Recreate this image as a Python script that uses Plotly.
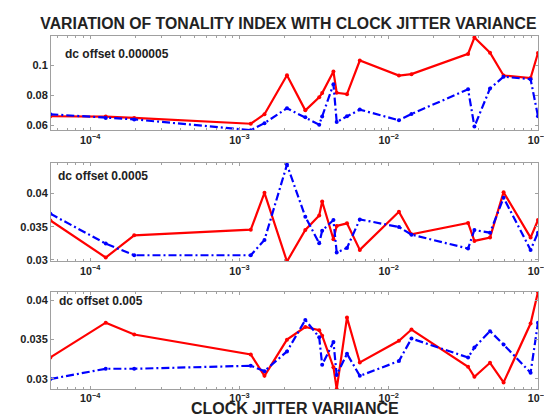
import plotly.graph_objects as go

# Clock jitter variance (shared x values)
jitter = [5.4e-5, 1.27e-4, 1.97e-4, 1.19e-3, 1.47e-3, 2.08e-3, 2.76e-3, 3.42e-3, 3.58e-3,
          4.26e-3, 4.48e-3, 5.25e-3, 6.4e-3, 0.0117, 0.0142, 0.034, 0.0375, 0.0477,
          0.0588, 0.0892, 0.1]

# dc offset 0.000005
top_red = [0.0661, 0.0659, 0.0650, 0.0611, 0.0674, 0.0934, 0.0700, 0.0787, 0.0815,
           0.0958, 0.0817, 0.0808, 0.1032, 0.0932, 0.0941, 0.1076, 0.1185, 0.1084,
           0.0932, 0.0915, 0.1082]
top_blue = [0.0674, 0.0650, 0.0640, 0.0568, 0.0615, 0.0714, 0.0655, 0.0605, 0.0660,
            0.0874, 0.0623, 0.0661, 0.0705, 0.0634, 0.0676, 0.0840, 0.0592, 0.0846,
            0.0924, 0.0907, 0.0661]

# dc offset 0.0005
mid_red = [0.03595, 0.03035, 0.03369, 0.03455, 0.0401, 0.02975, 0.0345, 0.0367, 0.0388,
           0.0331, 0.0351, 0.0355, 0.0315, 0.03725, 0.03384, 0.03556, 0.03285, 0.03335,
           0.0402, 0.03335, 0.0360]
mid_blue = [0.03695, 0.03245, 0.03069, 0.03069, 0.0330, 0.04435, 0.0365, 0.0325, 0.0344,
            0.0360, 0.0311, 0.0318, 0.0361, 0.03495, 0.0338, 0.0317, 0.0345, 0.0341,
            0.03935, 0.0315, 0.0341]

# dc offset 0.005
bot_red = [0.03273, 0.03716, 0.03565, 0.03311, 0.0304, 0.0350, 0.0366, 0.0362, 0.0355,
           0.0315, 0.02873, 0.0378, 0.0321, 0.03485, 0.03628, 0.03156, 0.03029, 0.03206,
           0.02957, 0.03704, 0.04105]
bot_blue = [0.0300, 0.0313, 0.0313, 0.03168, 0.0310, 0.0335, 0.0375, 0.0353, 0.0318,
            0.0347, 0.0305, 0.0332, 0.0304, 0.03228, 0.03514, 0.03273, 0.0340, 0.03608,
            0.03438, 0.0308, 0.03716]

panel_labels = ["dc offset 0.000005", "dc offset 0.0005", "dc offset 0.005"]
top_ticks = [0.06, 0.08, 0.1]
top_ticktext = ["0.06", "0.08", "0.1"]
low_ticks = [0.03, 0.035, 0.04]
low_ticktext = ["0.03", "0.035", "0.04"]

title_text = "VARIATION OF TONALITY INDEX WITH CLOCK JITTER VARIANCE"
xlabel_text = "CLOCK JITTER VARIIANCE"

FONT = "Liberation Sans, Arial, sans-serif"
RED = "#ff0000"
BLUE = "#0000ff"
GRAY = "#a0a0a0"

fig = go.Figure()
panels = [(top_red, top_blue, "x", "y"), (mid_red, mid_blue, "x2", "y2"), (bot_red, bot_blue, "x3", "y3")]
for red, blue, xa, ya in panels:
    fig.add_trace(go.Scatter(x=jitter, y=red, xaxis=xa, yaxis=ya, mode="lines+markers",
                             line=dict(color=RED, width=2.2), marker=dict(color=RED, size=4),
                             showlegend=False))
    fig.add_trace(go.Scatter(x=jitter, y=blue, xaxis=xa, yaxis=ya, mode="lines+markers",
                             line=dict(color=BLUE, width=2.2, dash="8px,3px,2px,3px"),
                             marker=dict(color=BLUE, size=4), showlegend=False))

ytickfont = dict(family=FONT, size=11, color="#222222", weight="bold")
xtickfont = dict(family=FONT, size=8.5, color="#222222", weight="bold")

def xax(anchor):
    return dict(type="log", range=[-4.263, -1], domain=[0, 1], anchor=anchor,
                dtick=1, exponentformat="power", showgrid=False, zeroline=False,
                showline=True, linecolor=GRAY, linewidth=1, mirror="ticks",
                ticks="inside", ticklen=3, tickcolor=GRAY, tickfont=xtickfont,
                ticklabelstandoff=0,
                minor=dict(ticks="inside", ticklen=2, tickcolor=GRAY, dtick="D1"))

def yax(anchor, dom, rng, tv, tt):
    return dict(range=rng, domain=dom, anchor=anchor, tickvals=tv, ticktext=tt,
                showgrid=False, zeroline=False, showline=True, linecolor=GRAY,
                linewidth=1, mirror="ticks", ticks="inside", ticklen=3,
                tickcolor=GRAY, tickfont=ytickfont)

annotations = []
ann_pos = [("x domain", "y domain", 0.024, 0.81), ("x2 domain", "y2 domain", 0.01, 0.872),
           ("x3 domain", "y3 domain", 0.012, 0.904)]
for lab, (xr, yr, ax_, ay_) in zip(panel_labels, ann_pos):
    annotations.append(dict(text=lab, xref=xr, yref=yr, x=ax_, y=ay_, xanchor="left",
                            yanchor="middle", showarrow=False,
                            font=dict(family=FONT, size=12, color="#222222", weight="bold")))
annotations.append(dict(text=xlabel_text, xref="paper", yref="paper", x=0.5, y=0,
                        xanchor="center", yanchor="middle", yshift=-19, showarrow=False,
                        borderpad=0,
                        font=dict(family=FONT, size=16, color="#222222", weight="bold")))

fig.update_layout(
    width=552, height=418,
    margin=dict(l=30, r=14, t=28, b=37),
    paper_bgcolor="white", plot_bgcolor="white",
    showlegend=False,
    title=dict(text=title_text, x=0.508, xanchor="center", y=1 - 15 / 418, yanchor="middle",
               font=dict(family=FONT, size=15.8, color="#222222", weight="bold")),
    xaxis=xax("y"), xaxis2=xax("y2"), xaxis3=xax("y3"),
    yaxis=yax("x", [0.7323, 1.0], [0.0566, 0.1195], top_ticks, top_ticktext),
    yaxis2=yax("x2", [0.3612, 0.6402], [0.02975, 0.0446], low_ticks, low_ticktext),
    yaxis3=yax("x3", [0.0, 0.2748], [0.02873, 0.04105], low_ticks, low_ticktext),
    annotations=annotations,
)

fig.write_html("out.html")
